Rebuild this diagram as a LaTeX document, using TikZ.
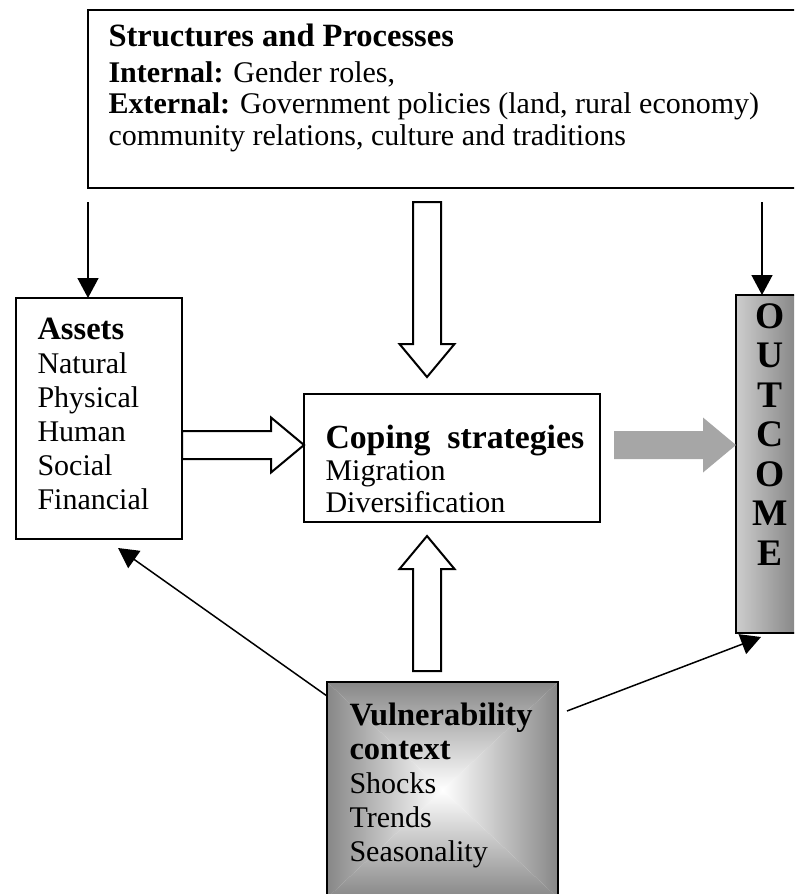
\documentclass[tikz,border=0pt]{standalone}
\usepackage{fontspec}
\setmainfont{Liberation Serif}
\usetikzlibrary{arrows.meta,calc}

\definecolor{outlight}{RGB}{205,205,205}
\definecolor{outdark}{RGB}{125,125,125}
\definecolor{vulgray}{RGB}{135,135,135}
\definecolor{fatgray}{RGB}{166,166,166}

% hollow block arrow from #2 to #3
\newcommand{\fatarrow}[3][draw=black,fill=white]{%
  \path (#2) coordinate (fa-s) (#3) coordinate (fa-e);
  \path ($(fa-e)!13.2pt!(fa-s)$) coordinate (fa-h);
  \path[#1, line width=0.8pt] ($(fa-s)!5.6pt!90:(fa-e)$) -- ($(fa-h)!5.6pt!90:(fa-e)$)
    -- ($(fa-h)!11pt!90:(fa-e)$) -- (fa-e) -- ($(fa-h)!11pt!-90:(fa-e)$)
    -- ($(fa-h)!5.6pt!-90:(fa-e)$) -- ($(fa-s)!5.6pt!-90:(fa-e)$) -- cycle;}

\begin{document}
\begin{tikzpicture}[x=0.4pt,y=-0.4pt,font=\fontsize{12}{13.6}\selectfont]
  \tikzset{box/.style={draw, line width=1pt, outer sep=0pt, inner sep=0pt, anchor=north west},
    txt/.style={anchor=north west, inner sep=0pt, align=left},
    thin arrow/.style={-{Triangle[length=8pt,width=8.4pt]}, line width=0.6pt}}
  \useasboundingbox (0,0) rectangle (794,894);
  \clip (0,0) rectangle (794,894);

  % boxes
  \node[box, minimum width=296.8pt, minimum height=71.2pt] (structures) at (88,10) {};
  \node[box, minimum width=66.4pt, minimum height=96.4pt] (assets) at (16,298) {};
  \node[box, minimum width=118.4pt, minimum height=51.2pt] (coping) at (304,394) {};
  \node[box, minimum width=27.2pt, minimum height=135.2pt, left color=outlight, right color=outdark] (outcome) at (736,295) {};
  \node[box, draw=none, minimum width=92.4pt, minimum height=86.4pt] (vuln) at (327,682) {};

  % vulnerability shading, four sides
  \begin{scope}
    \clip (vuln.north west) -- (vuln.north east) -- (vuln.center) -- cycle;
    \shade[top color=vulgray, bottom color=white] (vuln.north west) rectangle (vuln.east);
  \end{scope}
  \begin{scope}
    \clip (vuln.south west) -- (vuln.south east) -- (vuln.center) -- cycle;
    \shade[top color=white, bottom color=vulgray] (vuln.west) rectangle (vuln.south east);
  \end{scope}
  \begin{scope}
    \clip (vuln.north west) -- (vuln.south west) -- (vuln.center) -- cycle;
    \shade[left color=vulgray, right color=white] (vuln.north west) rectangle (vuln.south);
  \end{scope}
  \begin{scope}
    \clip (vuln.north east) -- (vuln.south east) -- (vuln.center) -- cycle;
    \shade[left color=white, right color=vulgray] (vuln.north) rectangle (vuln.south east);
  \end{scope}
  \draw[line width=1pt] (vuln.north west) rectangle (vuln.south east);

  % texts
  \node[txt, font=\fontsize{12}{12.6}\selectfont] (structtext) at ($(structures.north west)+(20,13)$)
    {{\fontsize{13}{15}\selectfont\textbf{Structures and Processes}}\\[1.8pt]
     \textbf{Internal:} Gender roles,\\
     \textbf{External:} Government policies (land, rural economy)\\
     community relations, culture and traditions};
  \node[txt] (assetstext) at ($(assets.north west)+(21,20)$)
    {{\fontsize{13}{15}\selectfont\textbf{Assets}}\\Natural\\Physical\\Human\\Social\\Financial};
  \node[txt, font=\fontsize{12}{12.8}\selectfont] (copingtext) at ($(coping.north west)+(21,31)$)
    {{\fontsize{13.5}{16}\selectfont\textbf{Coping\ \ strategies}}\\Migration\\Diversification};
  \node[anchor=north, inner sep=0pt, align=center, font=\fontsize{15}{15.8}\selectfont\bfseries] (outtext)
    at ($(outcome.north)+(0,8)$) {O\\U\\T\\C\\O\\M\\E};
  \node[txt] (vulntext) at ($(vuln.north west)+(22,20)$)
    {{\fontsize{13}{13.6}\selectfont\textbf{Vulnerability}}\\{\fontsize{13}{13.6}\selectfont\textbf{context}}\\Shocks\\Trends\\Seasonality};

  % block arrows
  \coordinate (downtip) at ($(coping.north)+(-25,-17)$);
  \coordinate (downtail) at ($(downtip |- structures.south)+(0,14)$);
  \coordinate (uptip) at ($(coping.south -| downtip)+(0,14)$);
  \coordinate (uptail) at ($(vuln.north -| downtip)+(0,-11)$);
  \coordinate (righttip) at ($(coping.west)+(0,-13)$);
  \coordinate (greytail) at ($(coping.east)+(14,-13)$);
  \fatarrow{downtail}{downtip}
  \fatarrow{uptail}{uptip}
  \fatarrow{assets.east |- righttip}{righttip}
  \fatarrow[fill=fatgray]{greytail}{outcome.west |- greytail}

  % thin arrows
  \draw[thin arrow] ($(structures.south west)+(0,14)$) -- (structures.south west |- assets.north);
  \coordinate (outtop) at ($(outcome.north)+(-8,0)$);
  \draw[thin arrow] ($(outtop |- structures.south)+(0,14)$) -- (outtop);
  \draw[thin arrow] ($(vuln.north west)+(0,14)$) -- ($(assets.south)+(19,9)$);
  \draw[thin arrow] ($(vuln.north east)+(9,29)$) -- ($(outcome.south)+(-9,4)$);
\end{tikzpicture}
\end{document}
